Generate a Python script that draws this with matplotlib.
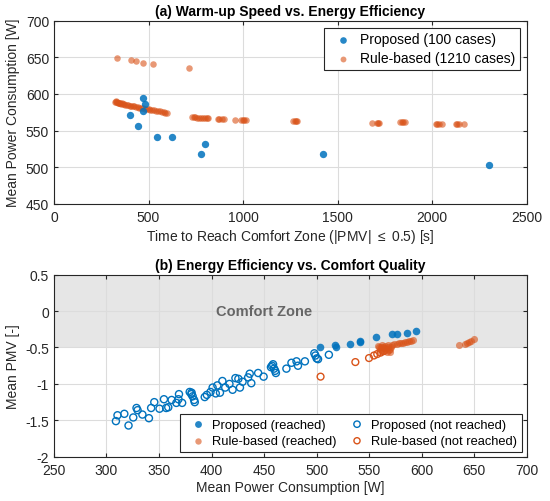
import matplotlib
matplotlib.use('Agg')
import matplotlib.pyplot as plt

plt.rcParams['font.family'] = ['Liberation Sans', 'DejaVu Sans']
plt.rcParams['axes.unicode_minus'] = False
plt.rcParams['mathtext.fontset'] = 'custom'
plt.rcParams['mathtext.rm'] = 'Liberation Sans'

BLUE = '#0072BD'
ORANGE = '#D95319'
DARK = '#262626'

# (a) proposed controller: time to reach comfort zone [s] / mean power [W]
propTime = [472, 484, 472, 402, 442, 543, 622, 780, 800, 1420, 2301]
propPower = [594.2, 586.4, 576.8, 571.4, 556.8, 541.0, 541.0, 517.8, 531.4, 518.2, 503.6]

# (a) rule-based controller (reached cases)
rbTime = [322, 326, 330, 334, 338, 342, 346, 350, 355, 360, 366, 372, 378, 385,
          392, 400, 408, 416, 425, 434, 443, 452, 461, 470, 480, 490, 500, 510,
          520, 530, 540, 550, 560, 570, 580, 588, 596,
          336, 407, 432, 472, 525, 715,
          728, 738, 748, 758, 768, 778, 790, 800, 808, 815,
          865, 872, 890, 897, 957, 990, 998, 1006, 1013,
          1265, 1272, 1280, 1286, 1682, 1708, 1714, 1719,
          1829, 1838, 1847, 1855, 2017, 2026, 2036, 2049, 2123, 2131, 2140, 2169]
rbPower = [589.5, 589.8, 588.5, 589.0, 588.2, 587.9, 587.4, 587.6, 586.6, 586.9, 586.0, 585.9, 585.3, 584.9,
           584.6, 584.0, 583.8, 583.1, 582.8, 582.2, 581.8, 581.2, 580.8, 580.2, 579.8, 579.2, 579.5, 578.6,
           578.0, 577.6, 577.0, 576.4, 576.0, 575.4, 574.9, 574.5, 574.1,
           649.1, 646.4, 644.6, 642.7, 641.0, 635.5,
           568.2, 568.0, 567.9, 567.7, 567.6, 567.4, 567.3, 567.2, 567.1, 567.0,
           566.2, 566.0, 566.1, 566.0, 565.0, 565.0, 564.9, 565.0, 565.0,
           562.8, 562.7, 562.8, 562.7, 560.5, 560.6, 560.5, 560.4,
           562.3, 562.2, 562.3, 562.3, 558.7, 558.6, 558.7, 558.7, 558.7, 558.6, 558.7, 558.7]

# (b) proposed, reached comfort zone
propReachW = [503.6, 517.8, 518.2, 531.4, 541.0, 541.0, 556.8, 571.4, 576.8, 586.4, 594.2]
propReachPMV = [-0.50, -0.47, -0.49, -0.45, -0.41, -0.42, -0.36, -0.32, -0.32, -0.30, -0.28]

# (b) proposed, not reached
propMissW = [309, 310.5, 317, 321, 325.5, 328.6, 329.6, 334.2, 340.4, 342.5, 345.5, 350.5,
             354.7, 356.8, 358.8, 362, 366.5, 369, 368.5, 372, 379.2, 380.8, 382, 383.4,
             384, 381, 393.5, 395.5, 399, 401, 404, 405.5, 408, 410.3, 413, 417, 420,
             422.7, 425.5, 427, 429.5, 434.8, 436.3, 437.8, 444.3, 449.5, 456.5, 457.5,
             458.5, 459.5, 460.5, 461.2, 471.2, 476, 480.8, 482.2, 488.8, 497.8, 498.8,
             500, 501.3, 511.6]
propMissPMV = [-1.51, -1.43, -1.41, -1.57, -1.46, -1.33, -1.36, -1.42, -1.47, -1.33, -1.25, -1.34,
               -1.21, -1.33, -1.32, -1.22, -1.26, -1.14, -1.21, -1.26, -1.11, -1.14, -1.17, -1.22,
               -1.25, -1.12, -1.18, -1.15, -1.11, -1.05, -1.13, -1.02, -1.12, -0.96, -1.05, -1.00, -1.08,
               -0.92, -0.93, -1.05, -0.97, -0.91, -0.86, -0.99, -0.85, -0.90, -0.77, -0.75,
               -0.73, -0.79, -0.82, -0.85, -0.79, -0.71, -0.69, -0.75, -0.69, -0.58, -0.61,
               -0.65, -0.66, -0.60]

# (b) rule-based, reached
rbReachW = [572, 574, 576, 578, 580, 582, 584, 586, 588, 590, 591.5,
            558.5, 559.5, 560.5, 561, 562, 563, 564, 565, 566, 567, 568, 569, 570, 571,
            565, 562, 568, 570, 560,
            635.6, 641, 642.6, 644.6, 646.4, 649.4]
rbReachPMV = [-0.46, -0.455, -0.45, -0.445, -0.44, -0.435, -0.43, -0.425, -0.415, -0.405, -0.395,
              -0.48, -0.50, -0.52, -0.49, -0.54, -0.50, -0.55, -0.48, -0.52, -0.56, -0.50, -0.53, -0.56, -0.49,
              -0.51, -0.47, -0.47, -0.52, -0.55,
              -0.47, -0.45, -0.44, -0.42, -0.41, -0.39]

# (b) rule-based, not reached
rbMissW = [503.7, 536.8, 549.8, 554.5, 557.6, 560.8, 563.5]
rbMissPMV = [-0.90, -0.70, -0.645, -0.61, -0.59, -0.57, -0.55]


def styleAxes(ax):
    ax.grid(True, color='#dcdcdc', linewidth=0.8, zorder=0)
    ax.set_axisbelow(True)
    ax.tick_params(direction='in', length=3, top=True, right=True, colors=DARK,
                   labelsize=10, labelcolor=DARK)
    ax.tick_params(axis='x', pad=4.5)
    for spine in ax.spines.values():
        spine.set_color(DARK)
        spine.set_linewidth(0.8)


fig = plt.figure(figsize=(5.5, 5.02), dpi=100)
axA = fig.add_axes([0.098, 0.592, 0.860, 0.365])
axB = fig.add_axes([0.098, 0.088, 0.860, 0.363])

# (a)
styleAxes(axA)
axA.scatter(propTime, propPower, s=28, color=BLUE, alpha=0.85, linewidths=0,
            label='Proposed (100 cases)', zorder=3)
axA.scatter(rbTime, rbPower, s=22, color=ORANGE, alpha=0.6, linewidths=0,
            label='Rule-based (1210 cases)', zorder=2)
axA.set_xlim(0, 2500)
axA.set_ylim(450, 700)
axA.set_xticks(range(0, 2501, 500))
axA.set_yticks(range(450, 701, 50))
axA.set_xlabel(r'Time to Reach Comfort Zone (|PMV| $\leq$ 0.5) [s]', fontsize=10, color=DARK, labelpad=2)
axA.set_ylabel('Mean Power Consumption [W]', fontsize=10, color=DARK, labelpad=4)
axA.set_title('(a) Warm-up Speed vs. Energy Efficiency', fontsize=10, fontweight='bold', pad=4)
legA = axA.legend(loc='upper right', fontsize=10, frameon=True, fancybox=False,
                  edgecolor=DARK, handletextpad=0.2, borderaxespad=0.5, markerscale=0.9,
                  borderpad=0.35, labelspacing=0.35, framealpha=1)
legA.get_frame().set_linewidth(0.8)

# (b)
styleAxes(axB)
axB.axhspan(-0.5, 0.5, color='#c8c8c8', alpha=0.45, linewidth=0, zorder=0.5)
axB.text(450, 0, 'Comfort Zone', fontsize=10.5, fontweight='bold', color='#666666',
         ha='center', va='center', zorder=1)
pr = axB.scatter(propReachW, propReachPMV, s=30, color=BLUE, alpha=0.85, linewidths=0,
                 label='Proposed (reached)', zorder=3)
pm = axB.scatter(propMissW, propMissPMV, s=26, facecolors='none', edgecolors=BLUE,
                 linewidths=1.0, label='Proposed (not reached)', zorder=3)
rr = axB.scatter(rbReachW, rbReachPMV, s=26, color=ORANGE, alpha=0.6, linewidths=0,
                 label='Rule-based (reached)', zorder=2)
rm = axB.scatter(rbMissW, rbMissPMV, s=24, facecolors='none', edgecolors=ORANGE,
                 linewidths=1.0, label='Rule-based (not reached)', zorder=2)
axB.set_xlim(250, 700)
axB.set_ylim(-2, 0.5)
axB.set_xticks(range(250, 701, 50))
axB.set_yticks([-2, -1.5, -1, -0.5, 0, 0.5])
axB.set_yticklabels(['-2', '-1.5', '-1', '-0.5', '0', '0.5'])
axB.set_xlabel('Mean Power Consumption [W]', fontsize=10, color=DARK, labelpad=2)
axB.set_ylabel('Mean PMV [-]', fontsize=10, color=DARK, labelpad=4)
axB.set_title('(b) Energy Efficiency vs. Comfort Quality', fontsize=10, fontweight='bold', pad=4)
legB = axB.legend(handles=[pr, rr, pm, rm], loc='lower right', ncol=2, fontsize=9.3,
                  frameon=True, fancybox=False, edgecolor=DARK, handletextpad=0.1,
                  columnspacing=0.6, borderaxespad=0.4, borderpad=0.35, labelspacing=0.35,
                  framealpha=1, markerscale=0.9)
legB.get_frame().set_linewidth(0.8)

fig.savefig('out.png', dpi=100)
